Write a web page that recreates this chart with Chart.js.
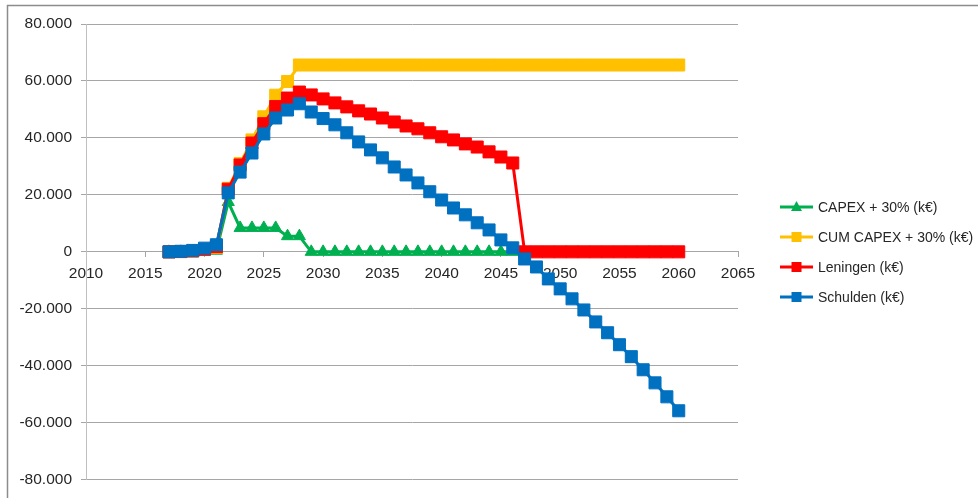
<!DOCTYPE html>
<html>
<head>
<meta charset="utf-8">
<script src="https://cdn.jsdelivr.net/npm/chart.js@4.4.1/dist/chart.umd.min.js"></script>
<style>
  html, body { margin: 0; padding: 0; background: #fff; }
  #wrap { width: 978px; height: 498px; }
</style>
</head>
<body>
<div id="wrap"><canvas id="debtChart" width="978" height="498"></canvas></div>
<script>
// values, in thousands (k€ x 1000 on the axis)
const years = [2017, 2018, 2019, 2020, 2021, 2022, 2023, 2024, 2025, 2026,
  2027, 2028, 2029, 2030, 2031, 2032, 2033, 2034, 2035, 2036,
  2037, 2038, 2039, 2040, 2041, 2042, 2043, 2044, 2045, 2046,
  2047, 2048, 2049, 2050, 2051, 2052, 2053, 2054, 2055, 2056,
  2057, 2058, 2059, 2060];

const capex = [0, 0, 0, 0.2, 0.4, 17.5, 8.4, 8.4, 8.4, 8.4,
  5.5, 5.5, 0, 0, 0, 0, 0, 0, 0, 0,
  0, 0, 0, 0, 0, 0, 0, 0, 0, 0];

const cumCapex = [0, 0.1, 0.3, 0.8, 1.5, 22.3, 31, 39.3, 47.4, 55,
  59.8, 65.6, 65.6, 65.6, 65.6, 65.6, 65.6, 65.6, 65.6, 65.6,
  65.6, 65.6, 65.6, 65.6, 65.6, 65.6, 65.6, 65.6, 65.6, 65.6,
  65.6, 65.6, 65.6, 65.6, 65.6, 65.6, 65.6, 65.6, 65.6, 65.6,
  65.6, 65.6, 65.6, 65.6];

const leningen = [0, 0.1, 0.3, 0.9, 1.8, 22, 30.5, 38.2, 45, 51,
  54, 56.1, 55.1, 53.7, 52.3, 50.9, 49.5, 48.4, 47, 45.6,
  44.2, 43.2, 41.8, 40.4, 39.3, 37.9, 36.8, 35.1, 33.3, 31.2,
  0, 0, 0, 0, 0, 0, 0, 0, 0, 0,
  0, 0, 0, 0];

const schulden = [0, 0.2, 0.5, 1.3, 2.5, 20.7, 28, 34.7, 41.4, 47,
  49.8, 52, 49.1, 46.8, 44.6, 41.8, 38.6, 35.8, 33, 29.8,
  27, 24.2, 21.1, 18.2, 15.4, 13, 10.2, 7.7, 4.2, 1.4,
  -2.5, -5.3, -9.5, -13, -16.5, -20.4, -24.6, -28.4, -32.6, -36.8,
  -41.4, -46, -50.9, -55.8];

const seriesNames = ['CAPEX + 30% (k€)', 'CUM CAPEX + 30% (k€)', 'Leningen (k€)', 'Schulden (k€)'];
const seriesColors = ['#00b050', '#ffc000', '#ff0000', '#0070c0'];

const gridGray = '#a6a6a6';
const textColor = '#262626';

function toPoints(values) {
  return values.map((v, i) => ({ x: years[i], y: v * 1000 }));
}

// 80000 -> "80.000"
function nlNumber(v) {
  const s = Math.abs(v).toString().replace(/\B(?=(\d{3})+(?!\d))/g, '.');
  return (v < 0 ? '-' : '') + s;
}

Chart.defaults.font.family = '"Liberation Sans", Arial, sans-serif';
Chart.defaults.font.size = 15.5;
Chart.defaults.color = textColor;

// white background + the grey chart frame (top and left edges are visible)
const chartFrame = {
  id: 'chartFrame',
  beforeDraw(chart) {
    const ctx = chart.ctx;
    ctx.save();
    ctx.fillStyle = '#fff';
    ctx.fillRect(0, 0, chart.width, chart.height);
    ctx.restore();
  },
  afterDraw(chart) {
    const ctx = chart.ctx;
    ctx.save();
    ctx.strokeStyle = '#8c8c8c';
    ctx.lineWidth = 1.5;
    ctx.beginPath();
    ctx.moveTo(7.5, chart.height);
    ctx.lineTo(7.5, 5.5);
    ctx.lineTo(chart.width, 5.5);
    ctx.stroke();
    ctx.restore();
  }
};

// Excel style legend: a short line with the marker in the middle
const lineLegend = {
  id: 'lineLegend',
  afterDraw(chart) {
    const ctx = chart.ctx;
    const x0 = 780, x1 = 813, top = 207, step = 30;
    ctx.save();
    chart.data.datasets.forEach((ds, i) => {
      const y = top + i * step;
      const cx = (x0 + x1) / 2;
      ctx.strokeStyle = ds.borderColor;
      ctx.fillStyle = ds.borderColor;
      ctx.lineWidth = 3;
      ctx.beginPath();
      ctx.moveTo(x0, y);
      ctx.lineTo(x1, y);
      ctx.stroke();
      ctx.beginPath();
      if (ds.pointStyle === 'triangle') {
        ctx.moveTo(cx, y - 6);
        ctx.lineTo(cx + 5.5, y + 4);
        ctx.lineTo(cx - 5.5, y + 4);
        ctx.closePath();
      } else {
        ctx.rect(cx - 5, y - 5, 10, 10);
      }
      ctx.fill();
      ctx.fillStyle = textColor;
      ctx.font = '14px "Liberation Sans", Arial, sans-serif';
      ctx.textBaseline = 'middle';
      ctx.textAlign = 'left';
      ctx.fillText(ds.label, 818, y + 1);
    });
    ctx.restore();
  }
};

function lineSet(i, values, style, radius, order) {
  return {
    label: seriesNames[i],
    data: toPoints(values),
    borderColor: seriesColors[i],
    backgroundColor: seriesColors[i],
    borderWidth: 3,
    pointStyle: style,
    pointRadius: radius,
    pointHoverRadius: radius,
    pointBorderWidth: 1,
    pointBorderColor: seriesColors[i],
    pointBackgroundColor: seriesColors[i],
    tension: 0,
    fill: false,
    order: order,
  };
}

const ctx = document.getElementById('debtChart');
new Chart(ctx, {
  type: 'line',
  data: {
    datasets: [
      lineSet(0, capex, 'triangle', 7, 4),
      lineSet(1, cumCapex, 'rect', 8.5, 3),
      lineSet(2, leningen, 'rect', 8.5, 2),
      lineSet(3, schulden, 'rect', 8.5, 1),
    ],
  },
  plugins: [chartFrame, lineLegend],
  options: {
    responsive: false,
    animation: false,
    layout: {
      padding: { left: 7, top: 24, right: 240, bottom: 16 },
    },
    plugins: {
      legend: { display: false },
      tooltip: { enabled: false },
    },
    scales: {
      x: {
        type: 'linear',
        position: { y: 0 },
        min: 2010,
        max: 2065,
        ticks: {
          stepSize: 5,
          padding: 8,
          maxRotation: 0,
          callback: function (value) {
            return String(value);
          },
        },
        grid: {
          drawOnChartArea: false,
          drawTicks: true,
          tickLength: 5,
          color: gridGray,
        },
        border: {
          display: true,
          color: gridGray,
        },
      },
      y: {
        min: -80000,
        max: 80000,
        ticks: {
          stepSize: 20000,
          padding: 9,
          callback: function (value) {
            return nlNumber(value);
          },
        },
        grid: {
          color: gridGray,
          tickLength: 5,
        },
        border: {
          color: '#c0c0c0',
        },
        afterFit: function (scale) {
          scale.width = 79;
        },
      },
    },
  },
});
</script>
</body>
</html>
